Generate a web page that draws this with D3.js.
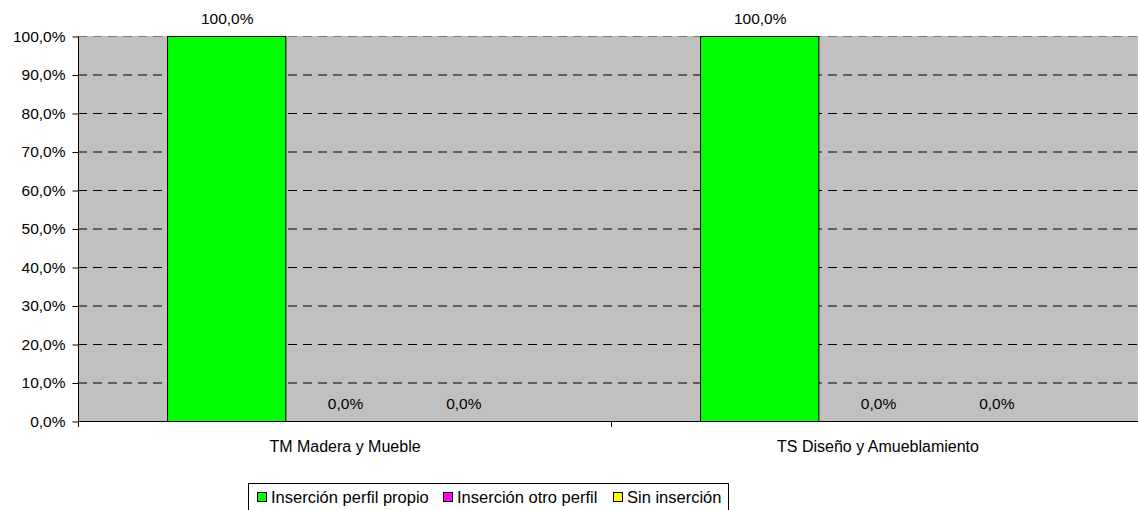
<!DOCTYPE html>
<html><head><meta charset="utf-8">
<script src="https://cdn.jsdelivr.net/npm/d3@7"></script>
<style>body{margin:0;background:#fff}svg{display:block}text{font-family:"Liberation Sans",Arial,sans-serif;fill:#000}</style>
</head><body><svg id="c" width="1138" height="510"></svg>
<script>
const categories = ["TM Madera y Mueble", "TS Diseño y Amueblamiento"];
const seriesNames = ["Inserción perfil propio", "Inserción otro perfil", "Sin inserción"];
const seriesColors = ["#00ff00", "#ff00ff", "#ffff00"];
const propio = [100, 100];
const otro = [0, 0];
const sin = [0, 0];
const yTicks = [0,10,20,30,40,50,60,70,80,90,100];
const seriesValues = [propio, otro, sin];

const svg = d3.select("#c");
const pL = 78, pT = 36, pB = 421, pR = 1144;
const x0 = d3.scaleBand().domain(categories).range([pL, pR]).paddingInner(0).paddingOuter(0);
const gw = x0.bandwidth();
const barW = 118.3, gpad = (gw - 3*barW)/2;
const x1 = d3.scaleBand().domain(seriesNames).range([gpad, gw - gpad]).padding(0);
const y = d3.scaleLinear().domain([0,100]).range([pB, pT]);
const fmt = v => v.toFixed(1).replace(".", ",") + "%";

svg.append("rect").attr("x", pL).attr("y", pT).attr("width", pR-pL).attr("height", pB-pT).attr("fill", "#c0c0c0");

// grid
svg.append("g").selectAll("line").data(yTicks.filter(d=>d>0)).join("line")
  .attr("x1", pL).attr("x2", pR).attr("y1", d=>y(d)+0.5).attr("y2", d=>y(d)+0.5)
  .attr("stroke", "#000").attr("stroke-width", 1).attr("stroke-dasharray", "9,6")
  .attr("stroke-opacity", d => d===100 ? 0.35 : 1);

// bars
const groups = svg.append("g").selectAll("g").data(categories).join("g")
  .attr("transform", d=>`translate(${x0(d)},0)`);
groups.each(function(cat, ci){
  const g = d3.select(this);
  seriesNames.forEach((s, si) => {
    const v = seriesValues[si][ci];
    if (v > 0) {
      g.append("rect").attr("x", x1(s)+0.5).attr("y", y(v)+0.5).attr("width", x1.bandwidth()).attr("height", y(0)-y(v))
        .attr("fill", seriesColors[si]).attr("stroke", "#000").attr("stroke-width", 1);
    }
    g.append("text").attr("x", x1(s)+x1.bandwidth()/2+1).attr("y", y(v)-12.5)
      .attr("text-anchor", "middle").attr("font-size", 15.5).text(fmt(v));
  });
});

// y axis
const ya = svg.append("g").attr("transform", `translate(${pL+0.5},0.5)`)
  .call(d3.axisLeft(y).tickValues(yTicks).tickSize(6).tickPadding(7).tickFormat(fmt));
ya.select(".domain").attr("stroke", "#000").attr("d", `M0,${pT}V${pB}`);
ya.selectAll("text").attr("font-size", 15.5).attr("font-family", "Liberation Sans, Arial, sans-serif");

// x axis
const xa = svg.append("g").attr("transform", `translate(0.5,${pB+0.5})`)
  .call(d3.axisBottom(x0).tickSize(0).tickPadding(19));
xa.select(".domain").attr("stroke", "#000").attr("d", `M${pL},0H${pR}`);
xa.selectAll("text").attr("font-size", 16).attr("font-family", "Liberation Sans, Arial, sans-serif");
svg.append("g").selectAll("line").data([pL, x0(categories[1])]).join("line")
  .attr("x1", d=>d+0.5).attr("x2", d=>d+0.5).attr("y1", pB).attr("y2", pB+6).attr("stroke", "#000");

// legend
const lg = svg.append("g");
lg.append("rect").attr("x", 248.5).attr("y", 483.5).attr("width", 480).attr("height", 40).attr("fill", "#fff").attr("stroke", "#000");
const legX = [257, 443, 613];
seriesNames.forEach((s, i) => {
  lg.append("rect").attr("x", legX[i]+0.5).attr("y", 492.5).attr("width", 9).attr("height", 9)
    .attr("fill", seriesColors[i]).attr("stroke", "#000");
  lg.append("text").attr("x", legX[i]+14).attr("y", 502.5).attr("font-size", 16.5).text(s);
});
</script></body></html>
